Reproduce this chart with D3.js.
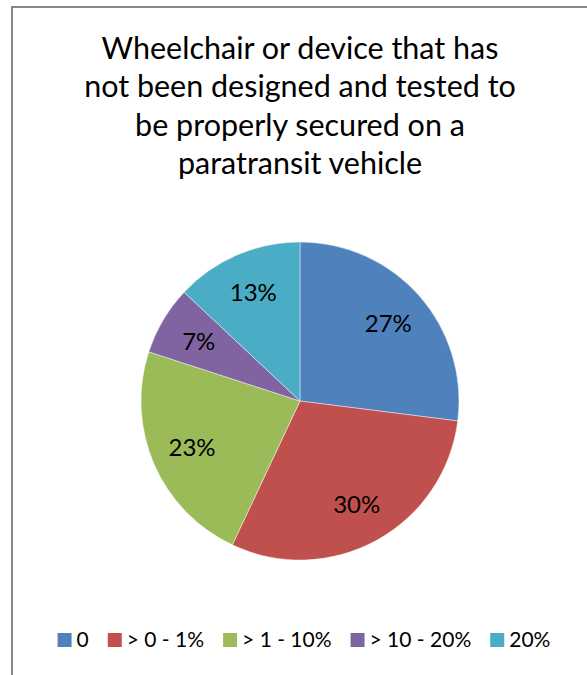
<!DOCTYPE html>
<html>
<head>
<meta charset="utf-8">
<script src="https://cdn.jsdelivr.net/npm/d3@7"></script>
<style>
  html, body { margin: 0; padding: 0; background: #fff; }
  svg { display: block; }
</style>
</head>
<body>
<svg id="chart" width="587" height="675"></svg>
<script>
// Share of responses per category
const categories = ["0", "> 0 - 1%", "> 1 - 10%", "> 10 - 20%", "20%"];
const values = [27, 30, 23, 7, 13];
const colors = ["#4F81BD", "#C0504D", "#9BBB59", "#8064A2", "#4BACC6"];
const titleLines = [
  "Wheelchair or device that has",
  "not been designed and tested to",
  "be properly secured on a",
  "paratransit vehicle"
];

const W = 587, H = 675;
const font = "Lato, 'Open Sans', sans-serif";
const svg = d3.select("#chart");

// Chart area frame (runs off the right and bottom edges)
svg.append("rect")
  .attr("x", 12).attr("y", 7)
  .attr("width", W + 20).attr("height", H + 20)
  .attr("fill", "#fff")
  .attr("stroke", "#898989")
  .attr("stroke-width", 2);

// Title
const title = svg.append("g").attr("font-family", font).attr("font-size", 30.5)
  .attr("fill", "#000").attr("text-anchor", "middle");
titleLines.forEach((line, i) => {
  title.append("text")
    .attr("x", 300)
    .attr("y", 48 + i * 38.5)
    .attr("dy", "0.35em")
    .text(line);
});

// Pie
const cx = 300, cy = 401, R = 159;
const pie = d3.pie().sort(null).value(d => d)(values);
const arc = d3.arc().innerRadius(0).outerRadius(R);
const labelArc = d3.arc().innerRadius(R * 0.74).outerRadius(R * 0.74);
const color = d3.scaleOrdinal().domain(d3.range(values.length)).range(colors);

const g = svg.append("g").attr("transform", `translate(${cx},${cy})`);
g.selectAll("path.slice")
  .data(pie)
  .join("path")
  .attr("class", "slice")
  .attr("d", arc)
  .attr("fill", (d, i) => color(i))
  .attr("stroke", "rgba(255,255,255,0.55)")
  .attr("stroke-width", 0.8);

g.selectAll("text.lbl")
  .data(pie)
  .join("text")
  .attr("class", "lbl")
  .attr("transform", d => `translate(${labelArc.centroid(d)})`)
  .attr("text-anchor", "middle")
  .attr("dy", "0.35em")
  .attr("font-family", font)
  .attr("font-size", 24)
  .attr("fill", "#000")
  .text(d => d.value + "%");

// Legend, laid out from measured text widths and centred
const legend = svg.append("g").attr("font-family", font).attr("font-size", 21);
const sq = 14, gapText = 5, gapItem = 19;
const items = categories.map((c, i) => {
  const it = legend.append("g");
  it.append("rect").attr("width", sq).attr("height", sq)
    .attr("y", -sq / 2).attr("fill", color(i));
  const t = it.append("text").attr("x", sq + gapText).attr("dy", "0.35em")
    .attr("fill", "#000").text(c);
  return { g: it, w: sq + gapText + t.node().getComputedTextLength() };
});
const totalW = d3.sum(items, d => d.w) + gapItem * (items.length - 1);
let x = 304 - totalW / 2;
items.forEach(d => {
  d.g.attr("transform", `translate(${x},640)`);
  x += d.w + gapItem;
});
</script>
</body>
</html>
